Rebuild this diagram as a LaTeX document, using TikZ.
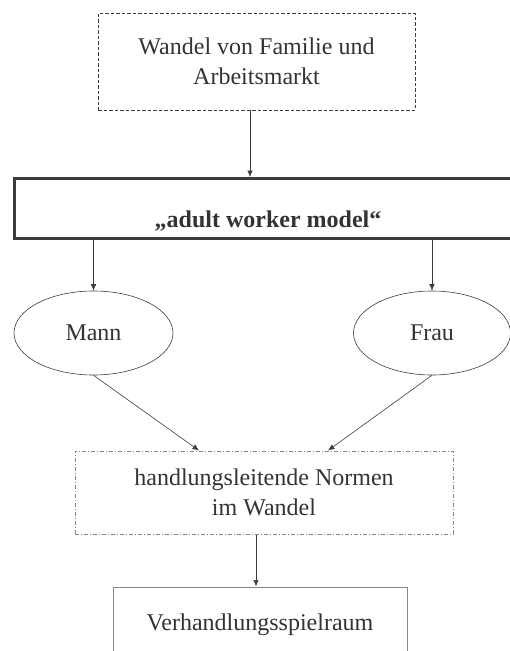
\documentclass[tikz,border=0pt]{standalone}
\usepackage{fontspec}
\setmainfont{Liberation Serif}
\usetikzlibrary{arrows.meta,shapes.geometric}

\definecolor{linegray}{HTML}{3C3C3C}
\definecolor{textgray}{HTML}{333333}
\definecolor{boxgray}{HTML}{858585}

\tikzset{
	>={Latex[length=6.5pt,width=5.5pt]},
	every node/.style={font=\fontsize{24}{29.5}\selectfont, text=textgray, align=center},
	conn/.style={->, draw=linegray, line width=0.6pt},
}

\begin{document}
\begin{tikzpicture}[x=1pt, y=-1pt]
			\useasboundingbox (0,0) rectangle (510,651);
			\clip (0,0) rectangle (510,651);
			
			\node[draw=linegray, line width=0.7pt, dash pattern=on 3.5pt off 2pt, minimum width=317pt, minimum height=97pt] (wandel) at (256.5,61.5) {Wandel von Familie und\\Arbeitsmarkt};
			\node[draw=linegray, line width=3pt, minimum width=508pt, minimum height=60pt, text height=40pt, text depth=3pt, font=\fontsize{24}{29}\selectfont\bfseries] (awm) at (268,208.5) {„adult worker model“};
			
			\node[draw=linegray, line width=0.6pt, ellipse, minimum width=159pt, minimum height=84pt] (mann) at (93.5,333) {Mann};
			\node[draw=linegray, line width=0.6pt, ellipse, minimum width=157pt, minimum height=84pt] (frau) at (432,333) {Frau};
			
			\node[draw=boxgray, line width=1pt, dash pattern=on 4pt off 2pt on 1pt off 2pt, minimum width=378pt, minimum height=83pt] (normen) at (264,492.5) {handlungsleitende Normen\\im Wandel};
			\node[draw=boxgray, line width=1pt, minimum width=294pt, minimum height=76pt] (spiel) at (260,625) {Verhandlungsspielraum};
			
			\draw[conn] (wandel.south -| 250,0) -- (awm.north -| 250,0);
			\draw[conn] (awm.south -| mann.north) -- (mann.north);
			\draw[conn] (awm.south -| frau.north) -- (frau.north);
			\draw[conn] (mann.south) -- (normen.north -| 199,0);
			\draw[conn] (frau.south) -- (normen.north -| 328,0);
			\draw[conn] (normen.south -| 256,0) -- (spiel.north -| 256,0);
		\end{tikzpicture}
\end{document}
